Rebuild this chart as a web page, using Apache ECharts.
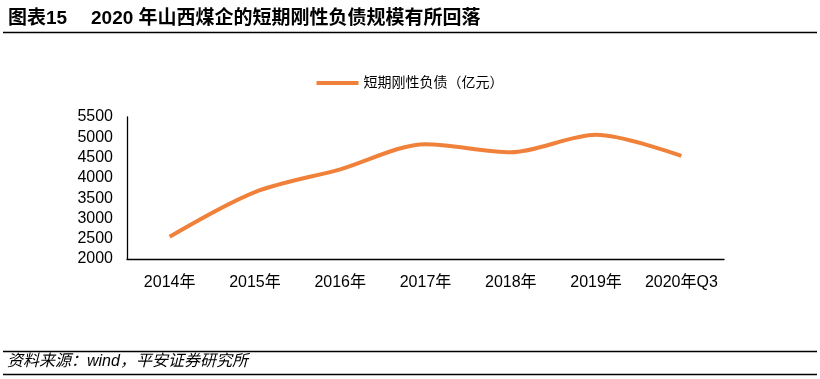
<!DOCTYPE html>
<html><head><meta charset="utf-8">
<script src="https://cdn.jsdelivr.net/npm/echarts@6/dist/echarts.min.js"></script>
<style>html,body{margin:0;padding:0;background:#fff}#c{width:820px;height:379px}</style>
</head><body><div id="c"></div>
<script>
const categories = ['2014年','2015年','2016年','2017年','2018年','2019年','2020年Q3'];
const seriesName = '短期刚性负债（亿元）';
const values = [2550, 3650, 4210, 4830, 4630, 5060, 4540];
const titleLabel = '图表15';
const titleText = '2020 年山西煤企的短期刚性负债规模有所回落';
const sourceText = '资料来源：wind，平安证券研究所';

const chart = echarts.init(document.getElementById('c'));
const font = '"Liberation Sans", "Noto Sans CJK SC", sans-serif';
chart.setOption({
  animation: false,
  textStyle: { fontFamily: font },
  legend: {
    top: 71, left: 'center',
    itemWidth: 42, itemHeight: 4, itemGap: 8,
    icon: 'rect',
    textStyle: { fontSize: 14, color: '#000', fontFamily: font },
    data: [seriesName]
  },
  grid: { left: 127, right: 96, top: 117, bottom: 120 },
  xAxis: {
    type: 'category', data: categories, boundaryGap: true,
    axisLine: { lineStyle: { color: '#000', width: 1.3 } },
    axisTick: { inside: true, length: 5, lineStyle: { color: '#000' } },
    axisLabel: { interval: 0, fontSize: 16, color: '#000', margin: 16, fontFamily: font }
  },
  yAxis: {
    type: 'value', min: 2000, max: 5500, interval: 500,
    axisLine: { show: true, lineStyle: { color: '#000', width: 1.3 } },
    axisTick: { show: false },
    splitLine: { show: false },
    axisLabel: { fontSize: 16, color: '#000', margin: 14, fontFamily: font, formatter: v => String(v) }
  },
  series: [{
    name: seriesName, type: 'line', data: values, smooth: 0.3,
    symbol: 'none',
    lineStyle: { color: '#F0813A', width: 4 },
    itemStyle: { color: '#F0813A' }
  }],
  graphic: [
    { type: 'text', left: 8, top: 9, style: { text: titleLabel, fill: '#000', font: 'bold 19px "Liberation Sans", "Noto Sans CJK SC", sans-serif' } },
    { type: 'text', left: 91, top: 9, style: { text: titleText, fill: '#000', font: 'bold 19px "Liberation Sans", "Noto Sans CJK SC", sans-serif' } },
    { type: 'line', shape: { x1: 3, y1: 32.5, x2: 817, y2: 32.5 }, style: { stroke: '#000', lineWidth: 1.3 } },
    { type: 'line', shape: { x1: 3, y1: 351.5, x2: 817, y2: 351.5 }, style: { stroke: '#000', lineWidth: 1.3 } },
    { type: 'text', left: 7, top: 354, style: { text: sourceText, fill: '#000', font: 'italic 16px "Liberation Sans", "Noto Sans CJK SC", sans-serif' } },
    { type: 'line', shape: { x1: 3, y1: 374.5, x2: 817, y2: 374.5 }, style: { stroke: '#000', lineWidth: 1.3 } }
  ]
});
</script></body></html>
